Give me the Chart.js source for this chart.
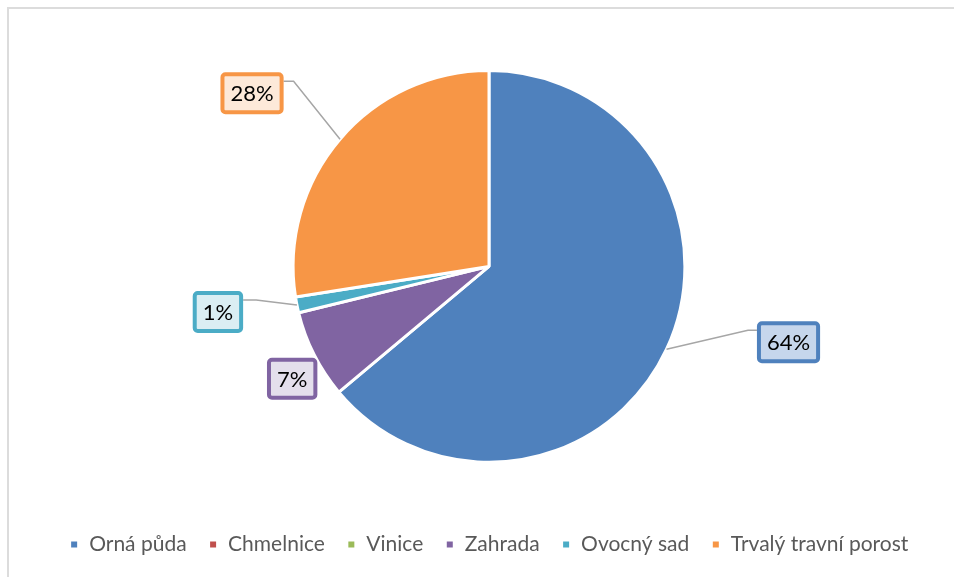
<!DOCTYPE html>
<html>
<head>
<meta charset="utf-8">
<script src="https://cdn.jsdelivr.net/npm/chart.js@4/dist/chart.umd.min.js"></script>
<style>
    html, body { margin: 0; padding: 0; background: #fff; overflow: hidden; }
    #frame { position: absolute; left: 7px; top: 7px; width: 1000px; height: 1000px; border: 2px solid #dcdcdc; }
    #wrap { position: absolute; left: 0; top: 0; width: 954px; height: 577px; }
</style>
</head>
<body>
<div id="frame"></div>
<div id="wrap"><canvas id="pieChart" width="954" height="577"></canvas></div>
<script>
// Data
const categories = ['Orná půda', 'Chmelnice', 'Vinice', 'Zahrada', 'Ovocný sad', 'Trvalý travní porost'];
const shares = [63.9, 0, 0, 7.3, 1.3, 27.5];

// Colours (Office theme)
const sliceColors = ['#4f81bd', '#c0504d', '#9bbb59', '#8064a2', '#4bacc6', '#f79646'];
const labelFills = ['#c6d6ec', '#f2dcdb', '#ebf1de', '#e4dfec', '#daeef3', '#fde9d9'];

// Label box placement relative to the slice's outer mid point
const labelPlace = {
    0: { dx: 122, dy: -7, side: 'left', ly: -12, elbow: 9 },
    3: { dx: -22, dy: 24, side: null },
    4: { dx: -79, dy: 7, side: 'right', ly: -12, elbow: 13 },
    5: { dx: -88, dy: -46, side: 'right', ly: -12, elbow: 10 }
};

const FONT = 'Lato, "Open Sans", sans-serif';

// Draw percentage boxes with leader lines
const boxLabels = {
    id: 'boxLabels',
    afterDatasetsDraw(chart) {
        const ctx = chart.ctx;
        const meta = chart.getDatasetMeta(0);
        const total = shares.reduce((a, b) => a + b, 0);
        ctx.save();
        ctx.font = '22px ' + FONT;
        meta.data.forEach((arc, i) => {
            const p = labelPlace[i];
            if (!shares[i] || !p) return;
            const mid = (arc.startAngle + arc.endAngle) / 2;
            const ax = arc.x + Math.cos(mid) * arc.outerRadius;
            const ay = arc.y + Math.sin(mid) * arc.outerRadius;
            const text = Math.round(shares[i] / total * 100) + '%';
            const tw = ctx.measureText(text).width;
            const w = tw + 20, h = 42;
            const cx = ax + p.dx, cy = ay + p.dy;
            const x = cx - w / 2, y = cy - h / 2;

            if (p.side) {
                const edgeX = p.side === 'left' ? x : x + w;
                const elbowX = p.side === 'left' ? edgeX - p.elbow : edgeX + p.elbow;
                ctx.beginPath();
                ctx.moveTo(ax, ay);
                ctx.lineTo(elbowX, cy + p.ly);
                ctx.lineTo(edgeX, cy + p.ly);
                ctx.strokeStyle = '#a6a6a6';
                ctx.lineWidth = 1.5;
                ctx.stroke();
            }

            ctx.beginPath();
            ctx.roundRect(x + 2, y + 2, w - 4, h - 4, 3);
            ctx.fillStyle = labelFills[i];
            ctx.fill();
            ctx.lineWidth = 4;
            ctx.strokeStyle = sliceColors[i];
            ctx.stroke();

            ctx.fillStyle = '#000';
            ctx.textAlign = 'center';
            ctx.textBaseline = 'middle';
            ctx.fillText(text, cx, cy + 1);
        });
        ctx.restore();
    }
};

const ctx = document.getElementById('pieChart').getContext('2d');
const chart = new Chart(ctx, {
    type: 'pie',
    data: {
        labels: categories,
        datasets: [{
            data: shares,
            backgroundColor: sliceColors,
            borderColor: '#ffffff',
            borderWidth: 3
        }]
    },
    options: {
        responsive: false,
        animation: false,
        layout: { padding: { top: 69, left: 24, right: 0, bottom: 12 } },
        plugins: {
            legend: {
                position: 'bottom',
                title: {
                    display: true,
                    text: ' ',
                    font: { size: 1 },
                    padding: { top: 0, bottom: 47 }
                },
                labels: {
                    font: { size: 21, family: FONT },
                    color: '#595959',
                    boxWidth: 9,
                    boxHeight: 9,
                    padding: 22
                }
            },
            tooltip: { enabled: false }
        }
    },
    plugins: [boxLabels]
});
</script>
</body>
</html>
